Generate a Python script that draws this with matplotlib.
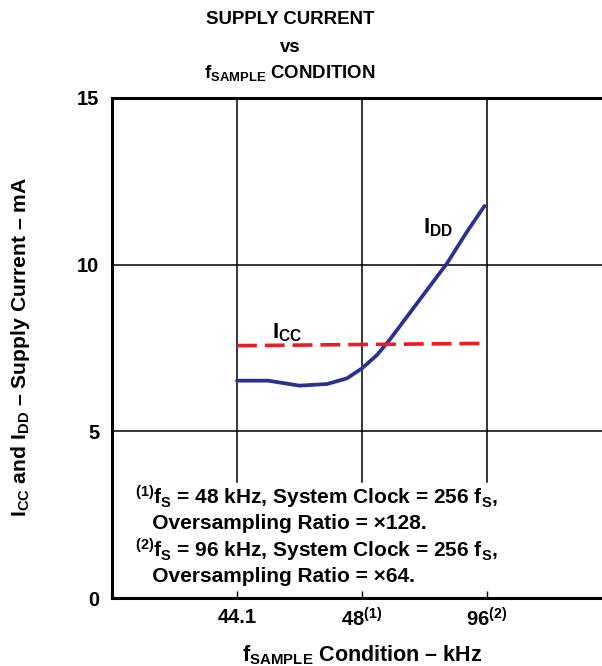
import numpy as np
import matplotlib
matplotlib.use("Agg")
import matplotlib.pyplot as plt

plt.rcParams['font.family'] = ['Liberation Sans', 'DejaVu Sans']
plt.rcParams['font.weight'] = 'bold'
plt.rcParams['mathtext.fontset'] = 'custom'
plt.rcParams['mathtext.rm'] = 'Liberation Sans:bold'
plt.rcParams['mathtext.bf'] = 'Liberation Sans:bold'
plt.rcParams['mathtext.it'] = 'Liberation Sans:bold'

# ---- data ----
cond_pos = [1, 2, 3]
cond_labels = ['44.1', r'48$^{(1)}$', r'96$^{(2)}$']

idd_x = [1.0, 1.25, 1.5, 1.72, 1.88, 2.0, 2.12, 2.22, 2.36, 2.52, 2.68, 2.84, 2.98]
idd_y = [6.52, 6.52, 6.37, 6.42, 6.59, 6.89, 7.29, 7.74, 8.44, 9.24, 10.04, 10.99, 11.76]

icc_x = [1.0, 3.0]
icc_y = [7.57, 7.64]

W, H = 602, 666
fig = plt.figure(figsize=(W / 100, H / 100), dpi=100)
# axes: left 112px, top 98px, bottom 598px, x=4 at 612px (right edge off the figure)
ax = fig.add_axes([112 / W, 1 - 598 / H, 500 / W, 500 / H])
ax.set_xlim(0, 4)
ax.set_ylim(0, 15)

ax.plot(idd_x, idd_y, color='#2a3290', lw=2.7, solid_capstyle='round',
        solid_joinstyle='round', zorder=3)
ax.plot(icc_x, icc_y, color='#ec1c24', lw=2.6, ls=(0, (5.5, 2.2)), zorder=3)

ax.set_xticks(cond_pos)
ax.set_xticklabels(cond_labels)
ax.set_yticks([0, 5, 10, 15])
ax.tick_params(axis='y', labelsize=14.5, length=0, pad=9)
ax.tick_params(axis='x', labelsize=14.5, direction='in', length=5, width=1, pad=7)
for lab in ax.get_yticklabels() + ax.get_xticklabels():
    lab.set_fontweight('bold')

# grid lines; the vertical ones stop above the footnote area
for xv in cond_pos:
    ax.plot([xv, xv], [3.48, 15], color='black', lw=1.1, zorder=1)
for yv in [5, 10]:
    ax.axhline(yv, color='black', lw=1.1, zorder=1)

for side in ['left', 'bottom', 'top']:
    ax.spines[side].set_linewidth(2.2)
ax.spines['right'].set_visible(False)

ax.text(1.28, 7.8, r'I$_{\mathrm{CC}}$', fontsize=16, fontweight='bold')
ax.text(2.49, 10.95, r'I$_{\mathrm{DD}}$', fontsize=16, fontweight='bold')

notes = [
    r'$^{(1)}$f$_{\mathrm{S}}$ = 48 kHz, System Clock = 256 f$_{\mathrm{S}}$,',
    '   Oversampling Ratio = ×128.',
    r'$^{(2)}$f$_{\mathrm{S}}$ = 96 kHz, System Clock = 256 f$_{\mathrm{S}}$,',
    '   Oversampling Ratio = ×64.',
]
for i, s in enumerate(notes):
    fig.text(135 / W, 1 - (497 + i * 26.5) / H, s, fontsize=15, fontweight='bold',
             va='center', ha='left')

ax.set_xlabel(r'f$_{\mathrm{SAMPLE}}$ Condition – kHz', fontsize=15.5, fontweight='bold', labelpad=9)
fig.text(21 / W, 1 - 347 / H, r'I$_{\mathrm{CC}}$ and I$_{\mathrm{DD}}$ – Supply Current – mA',
         rotation=90, fontsize=15.2, fontweight='bold', va='center', ha='center')

fig.text(290 / W, 1 - 20 / H, 'SUPPLY CURRENT', fontsize=13.4, fontweight='bold', ha='center', va='center')
fig.text(290 / W, 1 - 47 / H, 'vs', fontsize=13.4, fontweight='bold', ha='center', va='center')
fig.text(290 / W, 1 - 73 / H, r'f$_{\mathrm{SAMPLE}}$ CONDITION', fontsize=13.4, fontweight='bold',
         ha='center', va='center')

fig.savefig('out.png', dpi=100)
